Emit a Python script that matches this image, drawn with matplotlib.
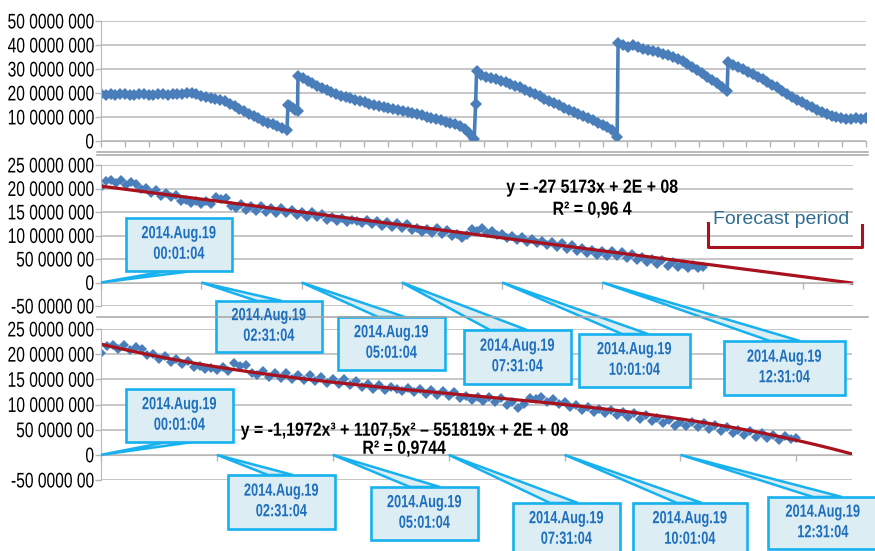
import numpy as np
import matplotlib.pyplot as plt
from matplotlib import patheffects
from matplotlib.patches import Rectangle, Polygon
from matplotlib.lines import Line2D
from matplotlib.transforms import Affine2D

# ---- top chart: full record (millions), stored as runs between the jumps ----
seg_start = [0, 782, 824, 1567, 1571, 2163, 2623]
seg_end = [778, 822, 1561, 1567, 2159, 2619, 3200]
seg_values = [
    [196, 193, 195, 191, 194, 197, 193, 192, 195, 194,
     191, 193, 196, 194, 192, 195, 197, 196, 199, 200,
     194, 187, 182, 178, 175, 170, 165, 155, 144, 134,
     124, 113, 104, 95, 85, 77, 69, 62, 55, 46],
    [149, 146, 138, 128, 124],
    [271, 262, 250, 240, 229, 219, 212, 203, 196, 189,
     183, 178, 172, 167, 161, 154, 150, 146, 143, 138,
     134, 130, 126, 121, 116, 112, 107, 101, 96, 92,
     86, 81, 75, 69, 61, 51, 32, 8],
    [154],
    [290, 276, 268, 262, 258, 252, 245, 238, 231, 223,
     214, 205, 195, 186, 176, 167, 157, 148, 139, 131,
     122, 112, 104, 95, 86, 76, 66, 57, 44, 15],
    [408, 398, 390, 398, 392, 385, 380, 376, 369, 364,
     357, 350, 341, 332, 320, 308, 296, 283, 268, 254,
     240, 226, 210],
    [328, 318, 310, 298, 289, 279, 268, 257, 245, 235,
     224, 210, 196, 184, 172, 161, 150, 140, 130, 121,
     112, 106, 100, 96, 93, 91, 94, 92, 96],
]

# ---- lower charts: one window of samples (millions), one point per 5 samples ----
win_step = 5
win_values = [
    203, 216, 219, 211, 218, 208, 214, 210, 198, 201,
    190, 196, 185, 191, 181, 187, 174, 176, 170, 173,
    168, 174, 166, 182, 177, 179, 162, 159, 166, 154,
    162, 153, 163, 151, 158, 148, 159, 147, 154, 143,
    151, 140, 150, 139, 146, 134, 140, 131, 138, 129,
    134, 130, 126, 133, 124, 131, 121, 129, 119, 126,
    117, 124, 112, 117, 108, 114, 106, 115, 104, 112,
    99, 104, 94, 101, 113, 110, 115, 105, 110, 101,
    104, 95, 99, 90, 96, 86, 92, 83, 89, 79,
    86, 75, 83, 72, 79, 68, 74, 63, 69, 58,
    66, 57, 66, 56, 64, 52, 60, 48, 55, 44,
    50, 40, 47, 36, 43, 33, 39, 30, 37, 31,
    34,
]

lin_slope, lin_icpt = -275173, 2.05e8
cub_coef = [-1.1972, 1107.5, -551819, 2.2e8]

p1_ticks = [0, 100, 200, 300, 400, 500]
p1_labels = ['0', '10 0000 000', '20 0000 000', '30 0000 000', '40 0000 000', '50 0000 000']
p23_ticks = [-50, 0, 50, 100, 150, 200, 250]
p23_labels = ['-50 0000 00', '0', '50 0000 00', '10 0000 000', '15 0000 000',
              '20 0000 000', '25 0000 000']

call_date = '2014.Aug.19'
call_times = ['00:01:04', '02:31:04', '05:01:04', '07:31:04', '10:01:04', '12:31:04']
call_samples = [0, 100, 200, 300, 400, 500]

eq_lin = ['y = -27 5173x + 2E + 08', 'R² = 0,96 4']
eq_cub = ['y = -1,1972x³ + 1107,5x² – 551819x + 2E + 08', 'R² = 0,9744']

W, H = 875, 551
sans = ['Liberation Sans', 'DejaVu Sans']
blue = '#4A7EBB'
red = '#A8121E'
grid_c = '#B7B7B7'
cyan = '#16B1EE'
box_fill = '#DCEDF4'
call_text = '#1E6FBE'


class Reshape(patheffects.AbstractPathEffect):
    """Scale each drawn text line about one of its sides (x) and its middle (y)."""

    def __init__(self, sx, sy=1.0, anchor='center'):
        super().__init__()
        self.sx = sx
        self.sy = sy
        self.anchor = anchor

    def draw_path(self, renderer, gc, tpath, affine, rgbFace=None):
        ext = tpath.get_extents(affine)
        if self.anchor == 'right':
            x0 = ext.x1
        elif self.anchor == 'left':
            x0 = ext.x0
        else:
            x0 = (ext.x0 + ext.x1) / 2
        y0 = (ext.y0 + ext.y1) / 2
        tr = Affine2D().translate(-x0, -y0).scale(self.sx, self.sy).translate(x0, y0)
        renderer.draw_path(gc, tpath, affine + tr, rgbFace)


def fig_rect(left, top, right, bottom):
    return [left / W, 1 - bottom / H, (right - left) / W, (bottom - top) / H]


def style(ax, ticks, labels):
    ax.set_yticks(ticks)
    ax.set_yticklabels(labels, family=sans, fontsize=12.2,
                       path_effects=[Reshape(0.92, 1.25, 'right')])
    ax.grid(axis='y', color=grid_c, lw=1.1)
    ax.set_axisbelow(True)
    for s in ['top', 'right']:
        ax.spines[s].set_visible(False)
    ax.spines['left'].set_color(grid_c)
    ax.spines['bottom'].set_color(grid_c)
    ax.tick_params(axis='both', colors=grid_c, length=4, width=1,
                   labelcolor='black', pad=1)
    ax.set_xticklabels([])
    ax.patch.set_alpha(0)


fig = plt.figure(figsize=(W / 100, H / 100), dpi=100)

# top chart
ax1 = fig.add_axes(fig_rect(101, 21, 866, 141))
xs, ys = [], []
for a, b, vals in zip(seg_start, seg_end, seg_values):
    xs.extend(np.linspace(a, b, len(vals)))
    ys.extend(vals)
ax1.plot(xs, ys, '-D', color=blue, lw=2.6, ms=5.8, mew=0)
ax1.set_xlim(0, 3200)
ax1.set_ylim(0, 500)
ax1.set_xticks(np.arange(0, 3201, 100))
style(ax1, p1_ticks, p1_labels)

win_x = np.arange(len(win_values)) * win_step

# middle chart: linear trend
ax2 = fig.add_axes(fig_rect(101, 165, 853, 306))
ax2.plot(win_x, win_values, 'D', color=blue, ms=5.4, mew=0)
ax2.set_xlim(0, 750)
tx = np.linspace(0, 750, 50)
ax2.plot(tx, (lin_slope * tx + lin_icpt) / 1e6, color=red, lw=2.3)
ax2.set_ylim(-50, 250)
ax2.set_xticks(np.arange(0, 701, 100))
ax2.spines['bottom'].set_position(('data', 0))
style(ax2, p23_ticks, p23_labels)

# bottom chart: cubic trend
ax3 = fig.add_axes(fig_rect(101, 329, 852, 480))
ax3.plot(win_x, win_values, 'D', color=blue, ms=5.4, mew=0)
ax3.set_xlim(0, 648)
tx = np.linspace(0, 648, 80)
ax3.plot(tx, np.polyval(cub_coef, tx) / 1e6, color=red, lw=2.3)
ax3.set_ylim(-50, 250)
ax3.set_xticks(np.arange(0, 601, 100))
ax3.spines['bottom'].set_position(('data', 0))
style(ax3, p23_ticks, p23_labels)

# overlay in pixel units for separators, callouts and notes
ov = fig.add_axes([0, 0, 1, 1], zorder=10)
ov.set_xlim(0, W)
ov.set_ylim(H, 0)
ov.axis('off')

for y in (152, 154.5, 317):
    ov.add_line(Line2D([97, 868], [y, y], color='#A5A5A5', lw=1.1))


def to_px(ax, x, y):
    dx, dy = ax.transData.transform((x, y))
    return dx, H - dy


# box (left, top, right, bottom) and where the pointer leaves the box
boxes2 = [(126, 218, 232, 271), (216, 301, 322, 352), (338, 317, 445, 370),
          (464, 330, 571, 384), (579, 334, 690, 387), (724, 341, 845, 395)]
bases2 = [(167, 193), (257, 282), (378, 405), (490, 527), (622, 648), (770, 800)]
boxes3 = [(126, 389, 233, 442), (228, 475, 335, 529), (371, 487, 478, 540),
          (513, 503, 620, 556), (633, 503, 747, 556), (768, 497, 878, 549)]
bases3 = [(167, 193), (268, 293), (410, 440), (550, 578), (677, 702), (813, 842)]

for ax, boxes, bases in ((ax2, boxes2, bases2), (ax3, boxes3, bases3)):
    for s, t, (l, tp, r, bt), (b1, b2) in zip(call_samples, call_times, boxes, bases):
        tipx, tipy = to_px(ax, s, 0)
        edge = bt if tipy > bt else tp
        ov.add_patch(Polygon([(tipx, tipy), (b1, edge), (b2, edge)], closed=True,
                             fc=box_fill, ec=cyan, lw=1.8, joinstyle='miter'))
        ov.add_patch(Rectangle((l, tp), r - l, bt - tp, fc=box_fill, ec=cyan, lw=1.9))
        ov.text((l + r) / 2, (tp + bt) / 2 - 1, call_date + '\n' + t, ha='center',
                va='center', family=sans, fontsize=11.5, fontweight='bold',
                color=call_text, linespacing=1.45,
                path_effects=[Reshape(0.8, 1.1)])

eq_style = dict(ha='center', va='center', family=sans, fontsize=13,
                fontweight='bold', path_effects=[Reshape(0.88, 1.05)])
ov.text(592, 188, eq_lin[0], **eq_style)
ov.text(592, 210, eq_lin[1], **eq_style)
ov.text(404, 431, eq_cub[0], **eq_style)
ov.text(404, 449, eq_cub[1], **eq_style)

# forecast bracket
ov.add_line(Line2D([708, 708, 862, 862], [223, 247, 247, 225], color=red, lw=2.2))
ov.text(781, 220, 'Forecast period', ha='center', va='center',
        family=sans, fontsize=14, color='#2F6E91')

fig.savefig('out.png', dpi=100)
